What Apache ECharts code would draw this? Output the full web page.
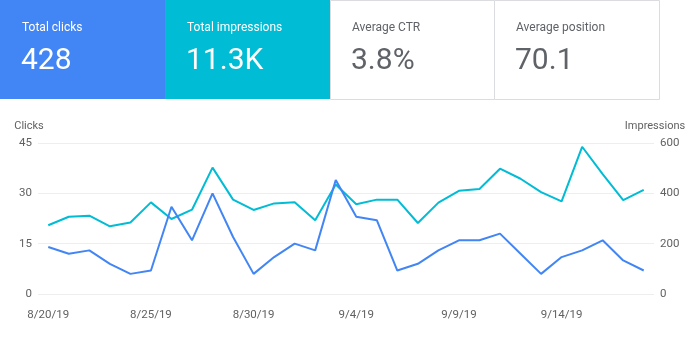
<!DOCTYPE html>
<html><head><meta charset="utf-8">
<script src="https://cdn.jsdelivr.net/npm/echarts@6/dist/echarts.min.js"></script>
<style>html,body{margin:0;padding:0;background:#fff;}#c{width:700px;height:343px;}</style>
</head><body><div id="c"></div>
<script>
const dates = ['8/20/19','8/21/19','8/22/19','8/23/19','8/24/19','8/25/19','8/26/19','8/27/19','8/28/19','8/29/19',
 '8/30/19','8/31/19','9/1/19','9/2/19','9/3/19','9/4/19','9/5/19','9/6/19','9/7/19','9/8/19',
 '9/9/19','9/10/19','9/11/19','9/12/19','9/13/19','9/14/19','9/15/19','9/16/19','9/17/19','9/18/19'];
const clicks = [14,12,13,9,6,7,26,16,30,17, 6,11,15,13,34,23,22,7,9,13, 16,16,18,12,6,11,13,16,10,7];
const impressions = [273,307,311,269,284,364,298,335,502,375, 334,360,365,293,435,357,375,375,282,363, 410,417,498,458,405,368,585,476,373,414];
const cardLabels = ['Total clicks','Total impressions','Average CTR','Average position'];
const cardValues = ['428','11.3K','3.8%','70.1'];

const font = 'Roboto, "Noto Sans", sans-serif';
const cardFills = ['#4285f4','#00bcd4','#ffffff','#ffffff'];
const cardText = ['#ffffff','#ffffff','#5f6368','#5f6368'];
const cardX = [0,165,330,494];
const cardW = [165,165,164,165];
const graphics = [];
cardLabels.forEach((t,i)=>{
  graphics.push({type:'rect',left:cardX[i],top:0,shape:{width:cardW[i],height:99},
    style:{fill:cardFills[i],stroke:i>=2?'#dadce0':null,lineWidth:1},z:0});
  graphics.push({type:'text',left:cardX[i]+22,top:22,style:{text:t,fill:cardText[i],font:'12px '+font},z:2});
  graphics.push({type:'text',left:cardX[i]+21,top:46,style:{text:cardValues[i],fill:cardText[i],font:'30px '+font},z:2});
});

const axisText = {color:'#616161',fontSize:11.5,fontFamily:font};
const chart = echarts.init(document.getElementById('c'));
chart.setOption({
  animation:false,
  graphic:graphics,
  grid:{left:38,right:46,top:143,bottom:49},
  xAxis:{type:'category',data:dates,boundaryGap:true,
    axisLine:{show:false},axisTick:{show:false},
    axisLabel:Object.assign({interval:4,margin:15},axisText)},
  yAxis:[
    {type:'value',min:0,max:45,interval:15,name:'Clicks',nameLocation:'end',nameGap:11,
     nameTextStyle:Object.assign({align:'center',padding:[0,18,0,0]},axisText,{fontSize:11}),
     axisLine:{show:false},axisTick:{show:false},
     axisLabel:Object.assign({margin:6},axisText),
     splitLine:{lineStyle:{color:'#eeeeee'}}},
    {type:'value',min:0,max:600,interval:200,name:'Impressions',nameLocation:'end',nameGap:11,
     nameTextStyle:Object.assign({align:'center',padding:[0,0,0,2]},axisText,{fontSize:11}),
     axisLine:{show:false},axisTick:{show:false},
     axisLabel:Object.assign({margin:6},axisText),
     splitLine:{show:false}}
  ],
  series:[
    {name:'Impressions',type:'line',yAxisIndex:1,data:impressions,showSymbol:false,
     lineStyle:{color:'#00bcd4',width:2},itemStyle:{color:'#00bcd4'}},
    {name:'Clicks',type:'line',yAxisIndex:0,data:clicks,showSymbol:false,
     lineStyle:{color:'#4285f4',width:2},itemStyle:{color:'#4285f4'}}
  ]
});
</script></body></html>
